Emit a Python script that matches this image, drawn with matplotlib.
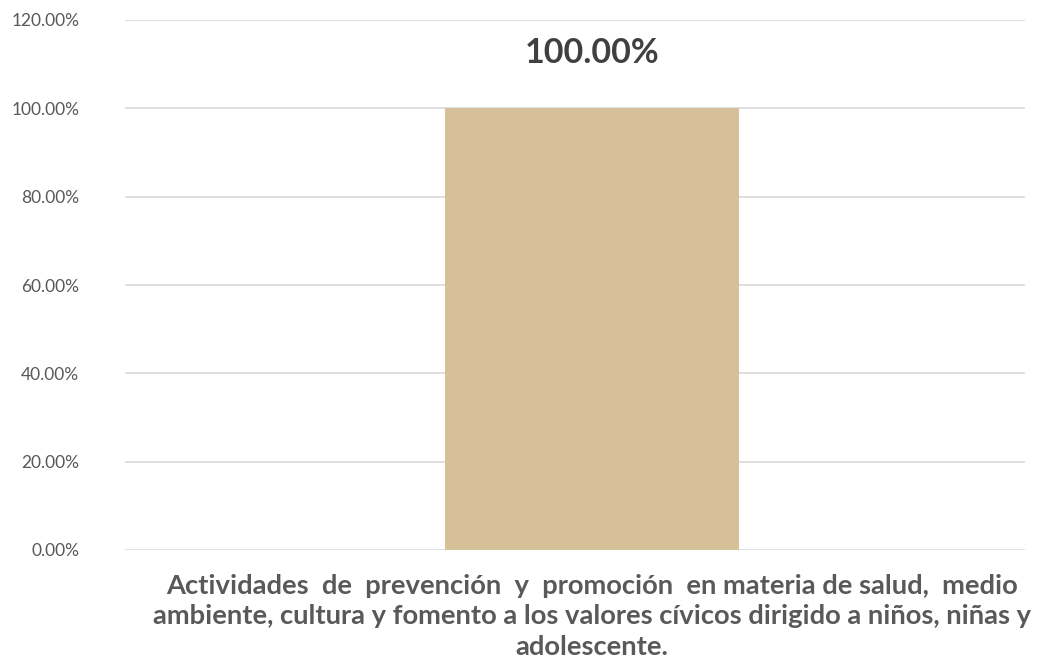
import matplotlib
matplotlib.use('Agg')
from matplotlib import pyplot as plt
from matplotlib.ticker import FuncFormatter

# data
categories = ['Actividades  de  prevención  y  promoción  en materia de salud,  medio\n'
              'ambiente, cultura y fomento a los valores cívicos dirigido a niños, niñas y\n'
              'adolescente.']
values = [1.0]
yticks = [0, 0.2, 0.4, 0.6, 0.8, 1.0, 1.2]

plt.rcParams['font.family'] = ['Lato', 'DejaVu Sans']

fig = plt.figure(figsize=(10.4, 6.71), dpi=100)
ax = fig.add_axes([125 / 1040, 121 / 671, 900 / 1040, 530 / 671])

ax.bar(range(len(values)), values, width=0.326, color='#D5C09A', zorder=2)
for i, v in enumerate(values):
    ax.text(i, v + 0.125, '{:.2f}%'.format(v * 100), ha='center', va='center',
            fontsize=24.5, fontweight='bold', color='#404040')

ax.set_xlim(-0.519, 0.481)
ax.set_ylim(0, 1.2)
ax.set_yticks(yticks)
ax.yaxis.set_major_formatter(FuncFormatter(lambda y, _: '{:.2f}%'.format(y * 100)))
ax.grid(axis='y', color='#D9D9D9', linewidth=1.2, zorder=0)
ax.set_axisbelow(True)
for s in ax.spines.values():
    s.set_visible(False)
ax.tick_params(axis='y', length=0, pad=33, labelsize=12.5, labelcolor='#595959')
ax.set_xticks(range(len(categories)))
ax.set_xticklabels(categories, fontsize=19.7, fontweight='bold', color='#595959',
                   linespacing=1.33)
ax.tick_params(axis='x', length=0, pad=17)
for lbl in ax.get_xticklabels():
    lbl.set_x(-0.008)

fig.savefig('out.png', dpi=100)
